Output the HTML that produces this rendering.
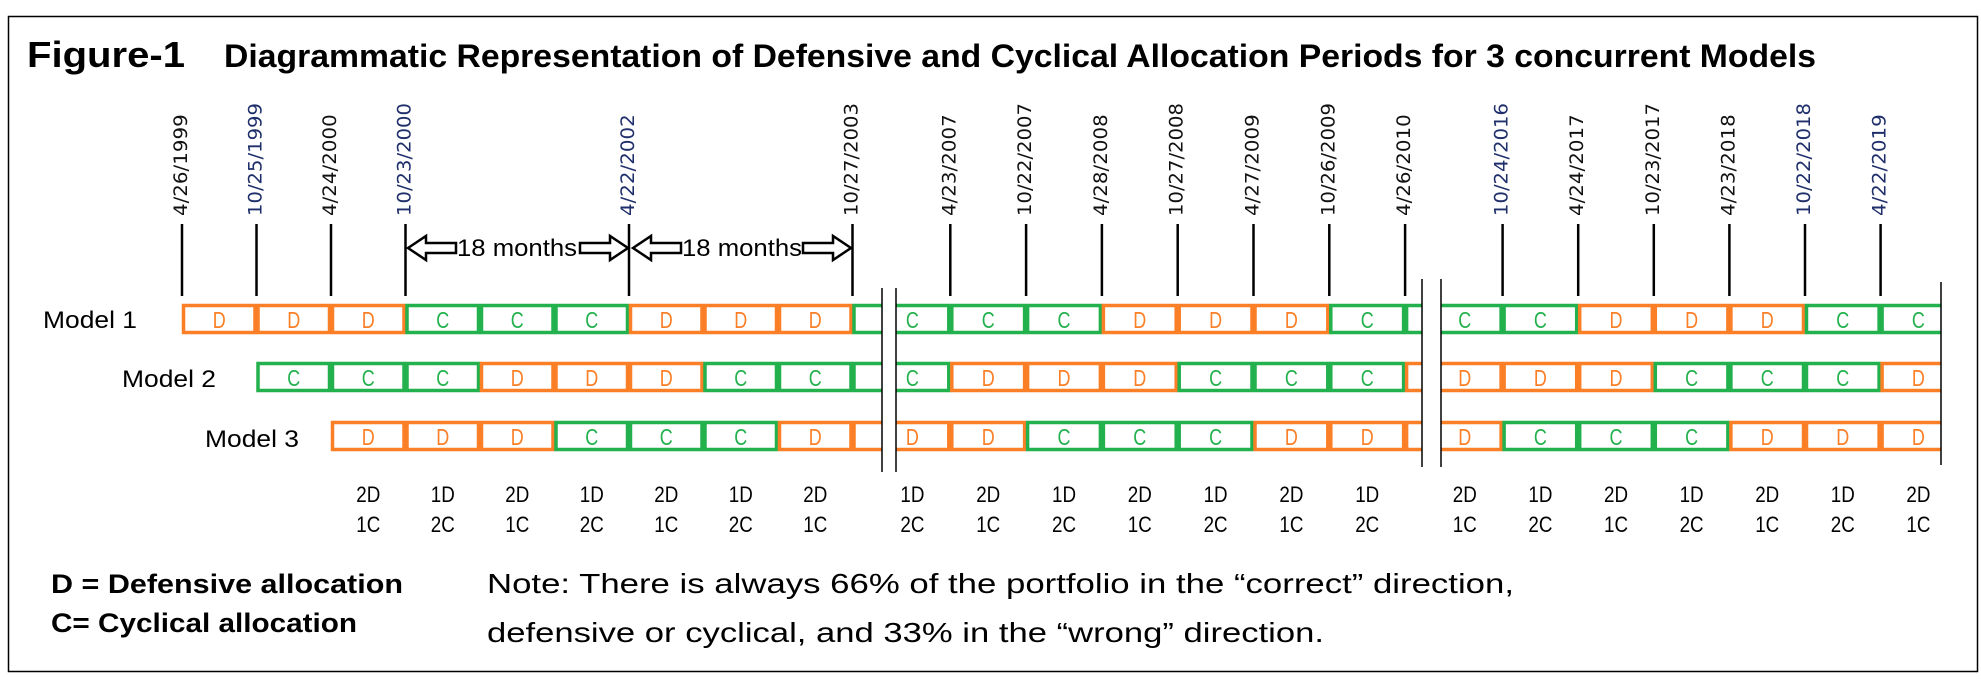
<!DOCTYPE html>
<html><head><meta charset="utf-8"><style>
html,body{margin:0;padding:0;background:#fff;}
svg{display:block;font-family:"Liberation Sans","DejaVu Sans",sans-serif;}
</style></head><body>
<svg id="chart" width="1981" height="685" viewBox="0 0 1981 685">
<rect x="8.5" y="16.5" width="1969" height="655" fill="#fff" stroke="#000" stroke-width="1.5"/>
<text x="27" y="67" font-size="36" font-weight="bold" textLength="158" lengthAdjust="spacingAndGlyphs">Figure-1</text>
<text x="224" y="67" font-size="32" font-weight="bold" textLength="1592" lengthAdjust="spacingAndGlyphs">Diagrammatic Representation of Defensive and Cyclical Allocation Periods for 3 concurrent Models</text>
<g id="grid"></g>
<text x="43" y="328" font-size="24" textLength="94" lengthAdjust="spacingAndGlyphs">Model 1</text>
<text x="122" y="387" font-size="24" textLength="94" lengthAdjust="spacingAndGlyphs">Model 2</text>
<text x="205" y="447" font-size="24" textLength="94" lengthAdjust="spacingAndGlyphs">Model 3</text>
<g>
<path d="M408 248 l18 -12 v7 h30 v10 h-30 v7 z" fill="#fff" stroke="#000" stroke-width="2.5"/>
<text x="457" y="256" font-size="24" textLength="120" lengthAdjust="spacingAndGlyphs">18 months</text>
<path d="M580 243 h30 v-7 l18 12 l-18 12 v-7 h-30 z" fill="#fff" stroke="#000" stroke-width="2.5"/>
</g>
<g>
<path d="M633 248 l18 -12 v7 h30 v10 h-30 v7 z" fill="#fff" stroke="#000" stroke-width="2.5"/>
<text x="682" y="256" font-size="24" textLength="120" lengthAdjust="spacingAndGlyphs">18 months</text>
<path d="M803 243 h30 v-7 l18 12 l-18 12 v-7 h-30 z" fill="#fff" stroke="#000" stroke-width="2.5"/>
</g>
<text x="51" y="593" font-size="27" font-weight="bold" textLength="352" lengthAdjust="spacingAndGlyphs">D = Defensive allocation</text>
<text x="51" y="632" font-size="27" font-weight="bold" textLength="306" lengthAdjust="spacingAndGlyphs">C= Cyclical allocation</text>
<text x="487" y="593" font-size="28" textLength="1027" lengthAdjust="spacingAndGlyphs">Note: There is always 66% of the portfolio in the “correct” direction,</text>
<text x="487" y="642" font-size="28" textLength="837" lengthAdjust="spacingAndGlyphs">defensive or cyclical, and 33% in the “wrong” direction.</text>
</svg>
<script>
// data arrays
const dates1 = ["4/26/1999","10/25/1999","4/24/2000","10/23/2000","4/22/2002","10/27/2003"];
const dateSlots1 = [0,1,2,3,6,9];
const dates2 = ["4/23/2007","10/22/2007","4/28/2008","10/27/2008","4/27/2009","10/26/2009","4/26/2010"];
const dateSlots2 = [1,2,3,4,5,6,7];
const dates3 = ["10/24/2016","4/24/2017","10/23/2017","4/23/2018","10/22/2018","4/22/2019"];
const dateSlots3 = [1,2,3,4,5,6];
const g1m1 = ["D","D","D","C","C","C","D","D","D","C"];
const g1m2 = ["","C","C","C","D","D","D","C","C","C"];
const g1m3 = ["","","D","D","D","C","C","C","D","D"];
const g2m1 = ["C","C","C","D","D","D","C","C"];
const g2m2 = ["C","D","D","D","C","C","C","D"];
const g2m3 = ["D","D","C","C","C","D","D","D"];
const g3m1 = ["C","C","D","D","D","C","C"];
const g3m2 = ["D","D","D","C","C","C","D"];
const g3m3 = ["D","C","C","C","D","D","D"];
const blueDates = ["10/25/1999","10/23/2000","4/22/2002","10/24/2016","10/22/2018","4/22/2019"];

const NS="http://www.w3.org/2000/svg";
const root=document.getElementById('grid');
const ORANGE="#fb7f26", GREEN="#22b14c";
const rowTop=[304,362,421], rowH=30;
const groups=[
 {start:182,w:74.5,clipL:176,clipR:882,models:[g1m1,g1m2,g1m3],dates:dates1,ds:dateSlots1,lblSlots:[2,3,4,5,6,7,8]},
 {start:874.5,w:75.8,clipL:896,clipR:1422,models:[g2m1,g2m2,g2m3],dates:dates2,ds:dateSlots2,lblSlots:[0,1,2,3,4,5,6]},
 {start:1427,w:75.6,clipL:1441,clipR:1941,models:[g3m1,g3m2,g3m3],dates:dates3,ds:dateSlots3,lblSlots:[0,1,2,3,4,5,6]}
];
function mk(tag,attrs,parent){const e=document.createElementNS(NS,tag);for(const k in attrs)e.setAttribute(k,attrs[k]);(parent||root).appendChild(e);return e;}
const defs=mk('defs',{});
groups.forEach((g,gi)=>{
  const xs=i=>g.start+g.w*i;
  const cp=mk('clipPath',{id:'cp'+gi},defs);
  mk('rect',{x:g.clipL,y:290,width:g.clipR-g.clipL,height:180},cp);
  const gg=mk('g',{'clip-path':'url(#cp'+gi+')'});
  
  
  g.models.forEach((arr,mi)=>{
    arr.forEach((v,si)=>{
      if(!v)return;
      const col=v==="D"?ORANGE:GREEN;
      const r=mk('rect',{x:xs(si)+1.5,y:rowTop[mi]+1.5,width:g.w-3,height:rowH-3,fill:'#fff',stroke:col,'stroke-width':3.5},gg);
      
      
      const t=mk('text',{x:xs(si)+g.w/2,y:rowTop[mi]+24,'font-size':23,fill:col,'text-anchor':'middle',textLength:13,lengthAdjust:'spacingAndGlyphs'},gg);
      
      
      t.textContent=v;
    });
  });
  g.dates.forEach((d,k)=>{
    const x=xs(g.ds[k]);
    const l=mk('line',{x1:x,y1:224,x2:x,y2:296,stroke:'#000','stroke-width':2.5});
    
    
    const t=mk('text',{x:0,y:0,'font-size':19,fill:blueDates.includes(d)?'#1f2f6b':'#111',transform:`translate(${x+5},216) rotate(-90)`,textLength:d.length*11.3,lengthAdjust:'spacingAndGlyphs'});
    t.setAttribute('font-family','"DejaVu Sans",sans-serif');
    
    
    t.textContent=d;
  });
  g.lblSlots.forEach(si=>{
    let nD=0;g.models.forEach(a=>{if(a[si]==="D")nD++;});
    let x=xs(si)+g.w/2; if(x>1925)x=1938;
    const t1=mk('text',{x:x,y:502,'font-size':22,'text-anchor':'middle',textLength:24,lengthAdjust:'spacingAndGlyphs'});
    
    
    t1.textContent=nD+"D";
    const t2=mk('text',{x:x,y:532,'font-size':22,'text-anchor':'middle',textLength:24,lengthAdjust:'spacingAndGlyphs'});
    
    
    t2.textContent=(3-nD)+"C";
  });
});
// break lines
[[882,288,472],[896,288,472],[1422,279,467],[1441,279,467],[1941,282,465]].forEach(b=>{
  const l=mk('line',{x1:b[0],y1:b[1],x2:b[0],y2:b[2],stroke:'#000','stroke-width':1.5});
  
  
});
</script>
</body></html>
